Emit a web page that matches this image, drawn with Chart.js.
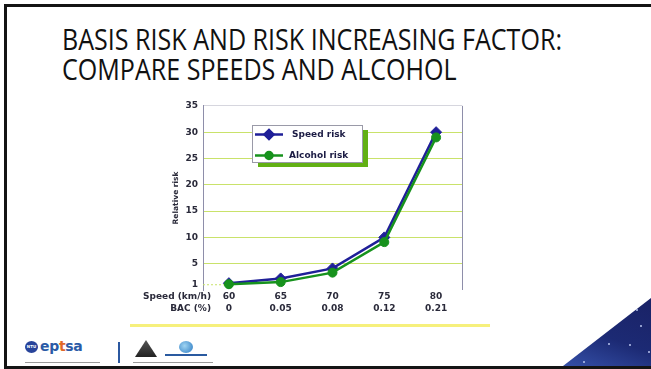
<!DOCTYPE html>
<html>
<head>
<meta charset="utf-8">
<script src="https://cdn.jsdelivr.net/npm/chart.js@4/dist/chart.umd.min.js"></script>
<style>
  html, body { margin: 0; padding: 0; background: #fff; }
  body { width: 651px; height: 369px; position: relative; overflow: hidden; font-family: "Open Sans", sans-serif; }
  .frame { position: absolute; left: 4px; top: 4px; width: 720px; height: 365px; box-sizing: border-box;
           border-left: 3px solid #141414; border-top: 3px solid #141414; border-bottom: 3px solid #141414; }
  .title { position: absolute; left: 62px; font-size: 28.5px; line-height: 28.5px; color: #111; white-space: nowrap;
           transform-origin: 0 0; letter-spacing: 0; }
  #chartBox { position: absolute; left: 130px; top: 95px; width: 340px; height: 230px; }
  .rule { position: absolute; left: 130px; top: 324px; width: 360px; height: 3px; background: #f6f07c; }
  .corner { position: absolute; left: 563px; top: 298px; width: 88px; height: 68px;
            clip-path: polygon(0 100%, 100% 0, 100% 100%);
            background: linear-gradient(200deg, #1a2266 0%, #1c2a74 55%, #3550a8 100%); }
  .star { position: absolute; width: 2px; height: 2px; background: #b8c4ee; border-radius: 1px; }
  .ntu { position: absolute; left: 25px; top: 341px; width: 13px; height: 12px; border-radius: 50%;
         background: #27439a; color: #fff; font: bold 4px "DejaVu Sans", sans-serif; line-height: 12px; text-align: center; }
  .eptsa { position: absolute; left: 40px; top: 338px; font: bold 14px "DejaVu Sans", sans-serif; color: #2b5aa6; letter-spacing: -0.3px; }
  .eptsa span { color: #e0682a; }
  .fine { position: absolute; height: 1px; background: #9a9a9a; }
  .divider { position: absolute; left: 118px; top: 342px; width: 2px; height: 21px; background: #2b58a0; }
  .mountain { position: absolute; left: 135px; top: 340px; width: 22px; height: 17px;
              clip-path: polygon(50% 0, 100% 100%, 0 100%); background: linear-gradient(#555, #222); }
  .globe { position: absolute; left: 179px; top: 341px; width: 14px; height: 12px; border-radius: 50%;
           background: radial-gradient(circle at 40% 40%, #9fd4f2, #2a79c2); }
  .globeBar { position: absolute; left: 165px; top: 354px; width: 42px; height: 2px; background: #2a5aa0; }
</style>
</head>
<body>
<div class="frame"></div>
<div class="title" id="t1" style="top:25px">BASIS RISK AND RISK INCREASING FACTOR:</div>
<div class="title" id="t2" style="top:54.5px">COMPARE SPEEDS AND ALCOHOL</div>

<div id="chartBox"><canvas id="riskChart" width="340" height="230"></canvas></div>
<div class="rule"></div>

<div class="ntu">NTU</div>
<div class="eptsa">ep<span>t</span>sa</div>
<div class="fine" style="left:25px;top:362px;width:75px"></div>
<div class="divider"></div>
<div class="mountain"></div>
<div class="globe"></div>
<div class="globeBar"></div>
<div class="fine" style="left:133px;top:362px;width:80px"></div>

<div class="corner"></div>
<div class="star" style="left:636px;top:309px"></div>
<div class="star" style="left:640px;top:325px"></div>
<div class="star" style="left:608px;top:343px"></div>
<div class="star" style="left:629px;top:344px"></div>
<div class="star" style="left:583px;top:361px"></div>
<div class="star" style="left:648px;top:351px"></div>

<script>
// Categories: travel speed and the blood alcohol level of equal risk
const speeds = ['60', '65', '70', '75', '80'];
const bacLevels = ['0', '0.05', '0.08', '0.12', '0.21'];
const rowLabels = ['Speed (km/h)', 'BAC (%)'];

// Relative crash risk for each category
const speedRisk = [1.3, 2.2, 4.1, 10, 30];
const alcoholRisk = [1.1, 1.5, 3.3, 9.1, 29];

// Value-axis tick labels
const yTicks = [1, 5, 10, 15, 20, 25, 30, 35];

// Fit the slide title to its box width
(function fitTitle() {
  const t1 = document.getElementById('t1');
  const t2 = document.getElementById('t2');
  const s = 500 / t1.getBoundingClientRect().width;
  t1.style.transform = 'scaleX(' + s + ')';
  t2.style.transform = 'scaleX(' + s + ')';
})();

const TICK_FONT = { family: '"DejaVu Sans", sans-serif', size: 9, weight: 'bold', lineHeight: 1.3 };
const TEXT_COLOR = '#2a2a3a';
const GRID_COLOR = '#c9e26a';
const FRAME_COLOR = '#8e8eaa';
const BLUE = '#1f1f98';
const GREEN = '#17921d';

// Frame on the right side, short dotted guide at 1, and the row captions under the axis
const decorations = {
  id: 'decorations',
  beforeDatasetsDraw(chart) {
    const { ctx, chartArea, scales } = chart;
    const y1 = scales.y.getPixelForValue(1);
    const xFirst = scales.x.getPixelForValue(0);
    ctx.save();
    ctx.strokeStyle = GRID_COLOR;
    ctx.lineWidth = 1;
    ctx.setLineDash([2, 2]);
    ctx.beginPath();
    ctx.moveTo(chartArea.left, y1);
    ctx.lineTo(xFirst, y1);
    ctx.stroke();
    ctx.setLineDash([]);
    ctx.strokeStyle = FRAME_COLOR;
    ctx.beginPath();
    ctx.moveTo(chartArea.right + 0.5, chartArea.top);
    ctx.lineTo(chartArea.right + 0.5, chartArea.bottom);
    ctx.stroke();
    ctx.restore();
  },
  afterDraw(chart) {
    const { ctx, scales } = chart;
    const lh = TICK_FONT.size * TICK_FONT.lineHeight;
    ctx.save();
    ctx.font = 'bold ' + TICK_FONT.size + 'px ' + TICK_FONT.family;
    ctx.fillStyle = TEXT_COLOR;
    ctx.textAlign = 'right';
    ctx.textBaseline = 'middle';
    rowLabels.forEach((txt, i) => {
      ctx.fillText(txt, 81, scales.x.top + 1 + lh * (i + 0.5));
    });
    ctx.restore();
  }
};

// Boxed legend with a drop shadow inside the plot
const boxedLegend = {
  id: 'boxedLegend',
  afterDatasetsDraw(chart) {
    const { ctx } = chart;
    const box = { x: 122, y: 30, w: 110, h: 37 };
    ctx.save();
    ctx.fillStyle = '#62b014';
    ctx.fillRect(box.x + 6, box.y + 5, box.w, box.h);
    ctx.fillStyle = '#ffffff';
    ctx.fillRect(box.x, box.y, box.w, box.h);
    ctx.strokeStyle = '#9a9aa8';
    ctx.lineWidth = 1;
    ctx.strokeRect(box.x + 0.5, box.y + 0.5, box.w, box.h);
    const rows = [
      { ds: chart.data.datasets[0], y: 39.5, tx: 162 },
      { ds: chart.data.datasets[1], y: 60.5, tx: 159 }
    ];
    ctx.font = 'bold 9px "DejaVu Sans", sans-serif';
    ctx.textBaseline = 'middle';
    ctx.textAlign = 'left';
    rows.forEach(r => {
      ctx.strokeStyle = r.ds.borderColor;
      ctx.lineWidth = 2.5;
      ctx.beginPath();
      ctx.moveTo(125, r.y);
      ctx.lineTo(153, r.y);
      ctx.stroke();
      Chart.helpers.drawPoint(ctx, {
        pointStyle: r.ds.pointStyle, radius: r.ds.pointRadius - 1, borderWidth: 1,
      }, 139, r.y);
      ctx.fillStyle = r.ds.borderColor;
      ctx.strokeStyle = r.ds.borderColor;
      ctx.fill();
      ctx.fillStyle = '#1c1c44';
      ctx.fillText(r.ds.label, r.tx, r.y);
    });
    ctx.restore();
  }
};

new Chart(document.getElementById('riskChart'), {
  type: 'line',
  data: {
    labels: speeds.map((s, i) => [s, bacLevels[i]]),
    datasets: [
      { label: 'Speed risk', data: speedRisk, borderColor: BLUE, backgroundColor: BLUE,
        borderWidth: 2.5, pointStyle: 'rectRot', pointRadius: 5.5, pointBorderWidth: 1, tension: 0, order: 1 },
      { label: 'Alcohol risk', data: alcoholRisk, borderColor: GREEN, backgroundColor: GREEN,
        borderWidth: 2.5, pointStyle: 'circle', pointRadius: 4.5, pointBorderWidth: 1, tension: 0, order: 0 }
    ]
  },
  options: {
    responsive: false,
    animation: false,
    devicePixelRatio: 1,
    layout: { padding: { left: 0, right: 8, top: 10, bottom: 0 } },
    plugins: { legend: { display: false }, tooltip: { enabled: false } },
    scales: {
      x: {
        type: 'category',
        offset: true,
        grid: { display: false, drawTicks: false },
        border: { display: false },
        ticks: { font: TICK_FONT, color: TEXT_COLOR, padding: 1, maxRotation: 0, autoSkip: false },
        afterFit(s) { s.height = 35; }
      },
      y: {
        min: 0,
        max: 35,
        afterBuildTicks(s) { s.ticks = yTicks.map(v => ({ value: v })); },
        grid: {
          drawTicks: false,
          color: c => c.tick.value === 1 ? 'rgba(0,0,0,0)' : (c.tick.value === 35 ? '#d6d6de' : GRID_COLOR),
          lineWidth: 1
        },
        border: { display: true, color: FRAME_COLOR, width: 1 },
        ticks: { font: TICK_FONT, color: TEXT_COLOR, padding: 5 },
        title: { display: true, text: 'Relative risk', color: TEXT_COLOR,
                 font: { family: '"DejaVu Sans", sans-serif', size: 7.5, weight: 'bold' },
                 padding: { top: 42, bottom: 0 } },
        afterFit(s) { s.width = 73; }
      }
    }
  },
  plugins: [decorations, boxedLegend]
});
</script>
</body>
</html>
